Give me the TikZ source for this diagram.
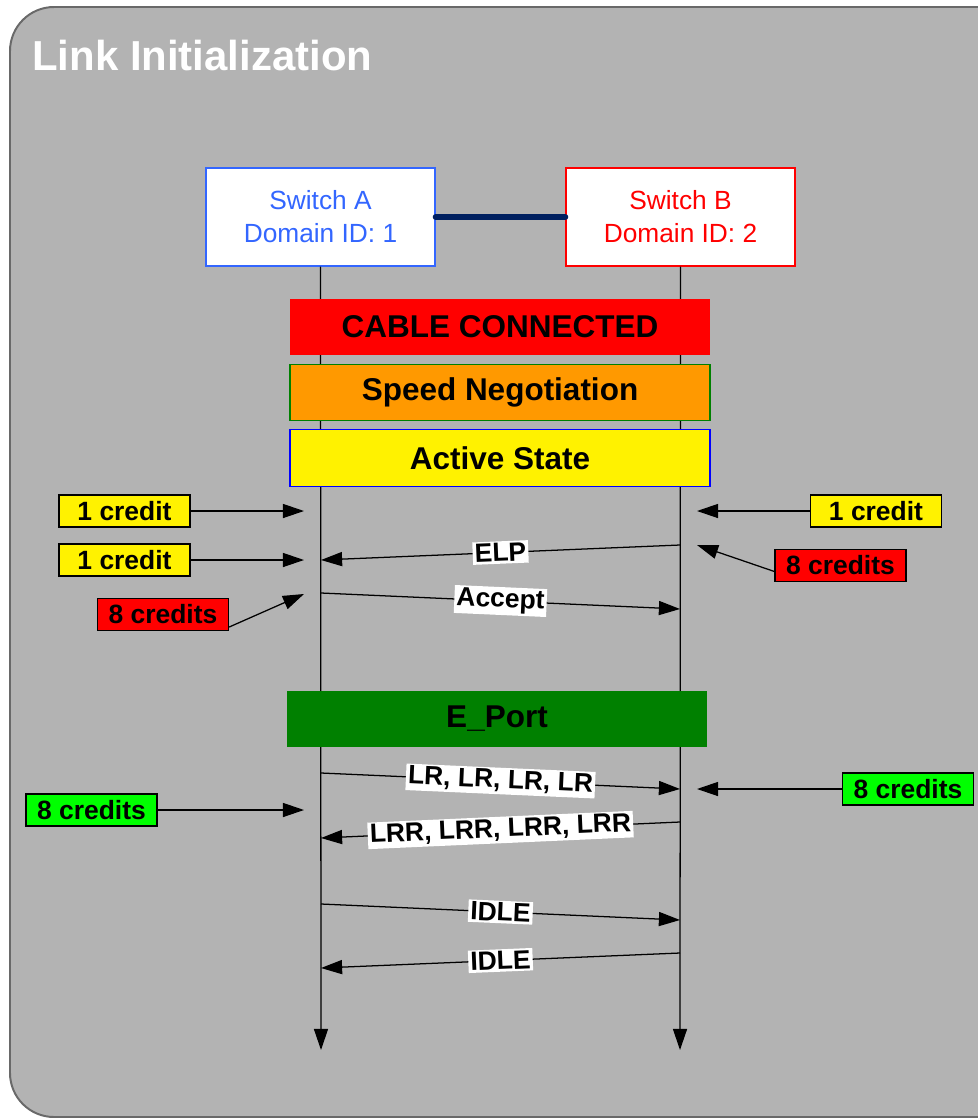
\documentclass[tikz,border=0pt]{standalone}
\usepackage{fontspec}
\setmainfont{Liberation Sans}
\usetikzlibrary{arrows.meta}

\definecolor{panelgray}{RGB}{179,179,179}
\definecolor{panelline}{RGB}{105,105,105}
\definecolor{swablue}{RGB}{51,102,255}
\definecolor{linknavy}{RGB}{0,32,96}
\definecolor{negorange}{RGB}{255,153,0}
\definecolor{eportgreen}{RGB}{0,128,0}
\definecolor{credgreen}{RGB}{0,255,0}

\tikzset{
  msg/.style={-{Triangle[length=15pt,width=10pt]}, line width=0.9pt},
  msglabel/.style={fill=white, inner sep=1.5pt, sloped, font=\bfseries\fontsize{18.8}{21}\selectfont},
  switchbox/.style={draw, fill=white, line width=1pt, minimum width=5.725cm, minimum height=2.45cm,
    align=center, font=\fontsize{18.7}{23.4}\selectfont},
  phasebar/.style={minimum width=10.5cm, minimum height=1.42cm, inner sep=0pt,
    font=\bfseries\fontsize{22.4}{24}\selectfont},
  creditbox/.style={draw=black, line width=0.8pt, minimum width=3.275cm, minimum height=0.8cm,
    inner sep=0pt, font=\bfseries\fontsize{18.8}{21}\selectfont}
}

\begin{document}
\begin{tikzpicture}[x=0.025cm, y=-0.025cm]
  \useasboundingbox (0,0) rectangle (978,1119);
  \begin{scope}
    \clip (0,0) rectangle (978,1119);
    \draw [panelline, fill=panelgray, line width=1.4pt, rounded corners=1.1cm] (10,7) rectangle (1040,1117);
  \end{scope}
  \node [anchor=base west, inner sep=0pt, text=white, font=\bfseries\fontsize{29.8}{32}\selectfont] (title) at (32,70) {Link Initialization};

  % switches and lifelines
  \node [switchbox, draw=swablue, text=swablue] (swa) at (320.5,217) {Switch A\\Domain ID: 1};
  \node [switchbox, draw=red, text=red] (swb) at (680.5,217) {Switch B\\Domain ID: 2};
  \draw [linknavy, line width=4.3pt, line cap=round] (swa.east) -- (swb.west);
  \coordinate (enda) at (321,1050);
  \coordinate (endb) at (680,1050);
  \draw [msg] (swa.south) -- (enda);
  \draw [msg] (swb.south) -- (endb);

  % phases
  \node [phasebar, fill=red] (cable) at (500,327) {CABLE CONNECTED};
  \node [phasebar, fill=negorange, draw=eportgreen, line width=0.8pt] (speed) at (500,392.5) {Speed Negotiation};
  \node [phasebar, fill=yellow, draw=blue, line width=0.8pt] (active) at (500,458) {Active State};
  \node [phasebar, fill=eportgreen] (eport) at (497,719) {E\_Port};

  % ELP / Accept
  \coordinate (elpb) at (680,545);
  \coordinate (elpa) at (321,560);
  \coordinate (acca) at (321,593);
  \coordinate (accb) at (680,609);
  \draw [msg] (elpb) -- node [msglabel] (elp) {ELP} (elpa);
  \draw [msg] (acca) -- node [msglabel] (acc) {Accept} (accb);

  % LR / LRR / IDLE
  \coordinate (lra) at (321,773);
  \coordinate (lrb) at (680,789);
  \coordinate (lrrb) at (680,822);
  \coordinate (lrra) at (321,838);
  \coordinate (idla) at (321,904);
  \coordinate (idlb) at (680,920);
  \coordinate (idl2b) at (680,953);
  \coordinate (idl2a) at (321,968);
  \draw [msg] (lra) -- node [msglabel] (lr) {LR, LR, LR, LR} (lrb);
  \draw [msg] (lrrb) -- node [msglabel] (lrr) {LRR, LRR, LRR, LRR} (lrra);
  \draw [msg] (idla) -- node [msglabel] (idle1) {IDLE} (idlb);
  \draw [msg] (idl2b) -- node [msglabel] (idle2) {IDLE} (idl2a);

  % buffer credits
  \node [creditbox, fill=yellow] (cra1) at (124.5,511) {1 credit};
  \node [creditbox, fill=yellow] (cra2) at (124.5,560) {1 credit};
  \node [creditbox, fill=red] (cra3) at (163,614.5) {8 credits};
  \node [creditbox, fill=yellow] (crb1) at (876,511) {1 credit};
  \node [creditbox, fill=red] (crb2) at (840.5,565.5) {8 credits};
  \node [creditbox, fill=credgreen] (crb3) at (908,789) {8 credits};
  \node [creditbox, fill=credgreen] (cra4) at (91.5,810) {8 credits};
  \coordinate (ina1) at (304,511);
  \coordinate (ina2) at (304,560);
  \coordinate (ina3) at (304,594);
  \coordinate (inb1) at (697,511);
  \coordinate (inb2) at (697,545);
  \coordinate (inb3) at (697,789);
  \coordinate (ina4) at (304,810);
  \draw [msg] (cra1) -- (ina1);
  \draw [msg] (cra2) -- (ina2);
  \draw [msg] (cra3.south east) ++(0,-4) -- (ina3);
  \draw [msg] (crb1) -- (inb1);
  \draw [msg] (crb2.west) ++(0,6) -- (inb2);
  \draw [msg] (crb3) -- (inb3);
  \draw [msg] (cra4) -- (ina4);
\end{tikzpicture}
\end{document}
